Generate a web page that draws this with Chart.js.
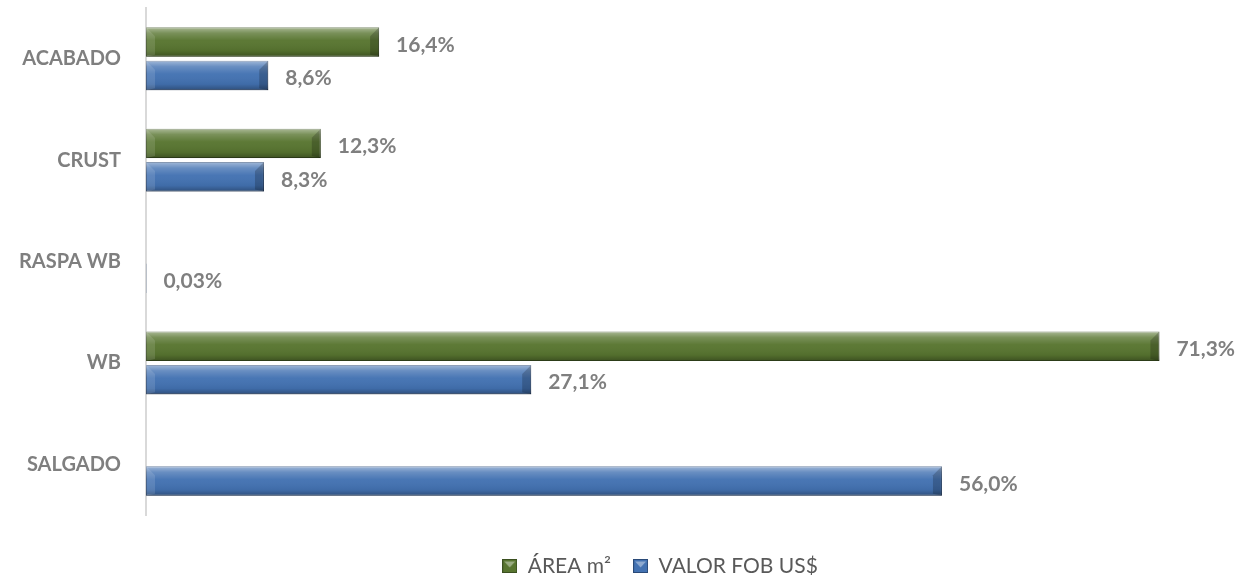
<!DOCTYPE html>
<html>
<head>
<meta charset="utf-8">
<script src="https://cdn.jsdelivr.net/npm/chart.js@4/dist/chart.umd.min.js"></script>
<style>
html,body{margin:0;padding:0;background:#fff;}
#wrap{width:1242px;height:575px;position:relative;}
</style>
</head>
<body>
<div id="wrap"><canvas id="c" width="1242" height="575"></canvas></div>
<script>
const categories = ["ACABADO", "CRUST", "RASPA WB", "WB", "SALGADO"];
const areaValues = [16.4, 12.3, null, 71.3, null];
const valorValues = [8.6, 8.3, 0.03, 27.1, 56.0];
const areaLabels = ["16,4%", "12,3%", "", "71,3%", ""];
const valorLabels = ["8,6%", "8,3%", "0,03%", "27,1%", "56,0%"];
const seriesNames = ["ÁREA m²", "VALOR FOB US$"];

const GREEN = "#587530", GREEN_D = "#3b5020";
const BLUE = "#4372b2", BLUE_D = "#2a4a78";
const LEGEND_PAD = 22, LEGEND_FONT = 21;

const bevelPlugin = {
  id: "bevel",
  afterDatasetsDraw(chart) {
    const ctx = chart.ctx;
    chart.data.datasets.forEach((ds, di) => {
      const meta = chart.getDatasetMeta(di);
      meta.data.forEach((bar, i) => {
        if (ds.data[i] == null) return;
        const p = bar.getProps(["x", "y", "base", "height"], true);
        const x0 = p.base, x1 = p.x, h = p.height;
        const y0 = p.y - h / 2, y1 = p.y + h / 2;
        const w = x1 - x0;
        if (w < 2) return;
        ctx.save();
        const g = ctx.createLinearGradient(0, y0, 0, y1);
        g.addColorStop(0, "rgba(255,255,255,0.5)");
        g.addColorStop(0.2, "rgba(255,255,255,0.2)");
        g.addColorStop(0.45, "rgba(255,255,255,0.03)");
        g.addColorStop(0.8, "rgba(0,0,0,0.06)");
        g.addColorStop(1, "rgba(0,0,0,0.3)");
        ctx.fillStyle = g;
        ctx.fillRect(x0, y0, w, h);
        const b = Math.min(9, w / 3);
        ctx.fillStyle = "rgba(0,0,0,0.2)";
        ctx.beginPath();
        ctx.moveTo(x1 - b, y0 + b);
        ctx.lineTo(x1, y0);
        ctx.lineTo(x1, y1);
        ctx.lineTo(x1 - b, y1 - 2);
        ctx.closePath();
        ctx.fill();
        ctx.fillStyle = "rgba(255,255,255,0.12)";
        ctx.beginPath();
        ctx.moveTo(x0, y0);
        ctx.lineTo(x0 + b, y0 + b);
        ctx.lineTo(x0 + b, y1 - 2);
        ctx.lineTo(x0, y1);
        ctx.closePath();
        ctx.fill();
        ctx.restore();
      });
    });
  }
};

const labelPlugin = {
  id: "valueLabels",
  afterDatasetsDraw(chart) {
    const ctx = chart.ctx;
    ctx.save();
    ctx.font = "bold 21px Lato";
    ctx.fillStyle = "#7f7f7f";
    ctx.textBaseline = "middle";
    ctx.textAlign = "left";
    const lbls = [areaLabels, valorLabels];
    chart.data.datasets.forEach((ds, di) => {
      const meta = chart.getDatasetMeta(di);
      meta.data.forEach((bar, i) => {
        const t = lbls[di][i];
        if (!t) return;
        const p = bar.getProps(["x", "y"], true);
        ctx.fillText(t, p.x + 17, p.y + 3);
      });
    });
    ctx.restore();
  }
};

const legendShift = {
  id: "legendShift",
  afterLayout(chart) {
    const lg = chart.legend;
    if (!lg) return;
    const dy = 566 - (lg.top + LEGEND_PAD + LEGEND_FONT / 2);
    lg.top += dy; lg.bottom += dy;
    lg.left += 54; lg.right += 54;
  }
};

const legendBox = (color, dark) => {
  const c = document.createElement("canvas");
  c.width = 15; c.height = 14;
  const x = c.getContext("2d");
  x.fillStyle = color; x.fillRect(0, 0, 15, 14);
  x.fillStyle = "rgba(255,255,255,0.4)";
  x.beginPath(); x.moveTo(2, 2.5); x.lineTo(13, 2.5); x.lineTo(7.5, 8.5); x.closePath(); x.fill();
  x.strokeStyle = dark; x.lineWidth = 1; x.strokeRect(0.5, 0.5, 14, 13);
  return c;
};

new Chart(document.getElementById("c"), {
  type: "bar",
  data: {
    labels: categories,
    datasets: [
      { label: seriesNames[0], data: areaValues, backgroundColor: GREEN, borderColor: GREEN_D, borderWidth: 1, borderSkipped: false },
      { label: seriesNames[1], data: valorValues, backgroundColor: BLUE, borderColor: BLUE_D, borderWidth: 1, borderSkipped: false }
    ]
  },
  options: {
    indexAxis: "y",
    responsive: false,
    animation: false,
    devicePixelRatio: 1,
    categoryPercentage: 0.66,
    barPercentage: 0.88,
    layout: { padding: { left: 0, right: 30, top: 8, bottom: 7 } },
    scales: {
      x: { display: false, min: 0, max: 75 },
      y: {
        grid: { display: false, drawTicks: false },
        border: { display: true, color: "#d9d9d9", width: 2 },
        ticks: { color: "#7f7f7f", font: { family: "Lato", size: 20, weight: "bold" }, padding: 25 },
        afterFit(scale) { scale.paddingTop = 0; scale.paddingBottom = 0; scale.width = 146; }
      }
    },
    plugins: {
      legend: {
        position: "bottom",
        labels: {
          color: "#595959",
          font: { family: "Lato", size: LEGEND_FONT },
          usePointStyle: true,
          boxWidth: 15, boxHeight: 14,
          padding: LEGEND_PAD,
          generateLabels(chart) {
            return chart.data.datasets.map((ds, i) => ({
              text: ds.label,
              pointStyle: i === 0 ? legendBox(GREEN, GREEN_D) : legendBox(BLUE, BLUE_D),
              fontColor: "#595959",
              datasetIndex: i,
              hidden: false,
              lineWidth: 0
            }));
          }
        }
      },
      tooltip: { enabled: false }
    }
  },
  plugins: [bevelPlugin, labelPlugin, legendShift]
});
</script>
</body>
</html>
